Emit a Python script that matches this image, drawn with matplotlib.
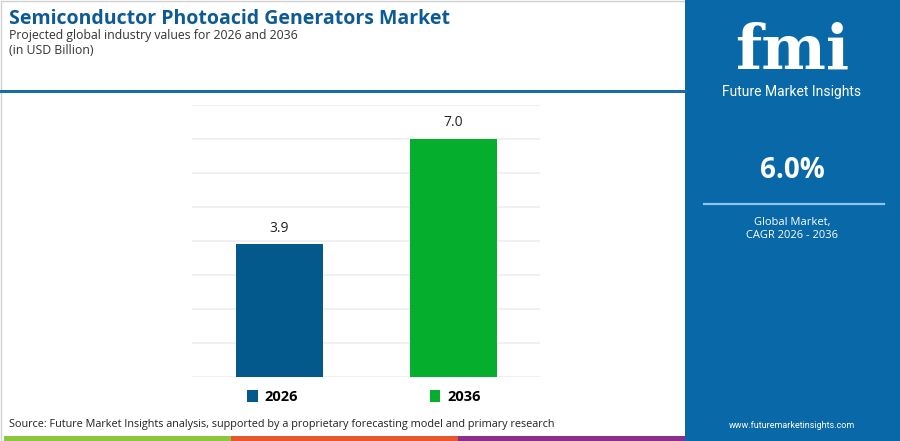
import matplotlib.pyplot as plt
from matplotlib.patches import Rectangle

years = ['2026', '2036']
values = [3.9, 7.0]
bar_colors = ['#03588c', '#05ae2c']
cagr = '6.0%'

W, H = 900, 441
fig = plt.figure(figsize=(9, 4.41), dpi=100)
fig.patch.set_facecolor('white')

def px(x0, y0, x1, y1):
    # pixel box (top-left origin) -> figure fraction rect
    return [x0 / W, 1 - y1 / H, (x1 - x0) / W, (y1 - y0) / H]

bg = fig.add_axes([0, 0, 1, 1])
bg.set_xlim(0, W)
bg.set_ylim(H, 0)
bg.axis('off')

# border and header line
bg.add_patch(Rectangle((0.5, 0.5), W - 1, H - 1, fill=False, ec='#d0d0d0', lw=1))
bg.plot([0, 685], [91, 91], color='#1c6aa6', lw=2.2)

# right panel
bg.add_patch(Rectangle((685, 0), 215, H, fc='#0868a8', ec='none'))
bg.plot([704, 884], [204, 204], color='#8fc3ea', lw=1.6)

# bottom strip
bg.add_patch(Rectangle((4, 436), 227, 5, fc='#8cc63f', ec='none'))
bg.add_patch(Rectangle((231, 436), 227, 5, fc='#e8572b', ec='none'))
bg.add_patch(Rectangle((458, 436), 227, 5, fc='#8b2f8f', ec='none'))

# header text
bg.text(9, 19, 'Semiconductor Photoacid Generators Market', fontsize=14,
        fontweight='bold', color='#0d5a94', family='Open Sans', va='center')
bg.text(9, 36, 'Projected global industry values for 2026 and 2036', fontsize=8.8,
        color='#333333', family='Open Sans', va='center')
bg.text(9, 51, '(in USD Billion)', fontsize=8.8, color='#333333',
        family='Open Sans', va='center')

# logo text
bg.text(792, 52, 'fmi', fontsize=44, fontweight='bold', color='white',
        family='DejaVu Serif', ha='center', va='center')
bg.text(792, 92, 'Future Market Insights', fontsize=10, color='white',
        family='Roboto', ha='center', va='center')

# right panel text
bg.text(792, 170, cagr, fontsize=20, fontweight='bold', color='white',
        family='Open Sans', ha='center', va='center')
bg.text(792, 223, 'Global Market,', fontsize=8, color='white',
        family='Open Sans', ha='center', va='center')
bg.text(792, 235, 'CAGR 2026 - 2036', fontsize=8, color='white',
        family='Open Sans', ha='center', va='center')
bg.text(792, 425, 'www.futuremarketinsights.com', fontsize=6.5, color='white',
        family='Roboto', ha='center', va='center')

# source
bg.text(9, 425, 'Source: Future Market Insights analysis, supported by a proprietary forecasting model and primary research',
        fontsize=7.8, color='#222222', family='Open Sans', va='center')

# bar chart
ax = fig.add_axes(px(192, 105, 540, 377))
ax.set_xlim(0, 2)
ax.set_ylim(0, 8)
xs = [0.5, 1.5]
ax.bar(xs, values, width=0.5, color=bar_colors, zorder=3)
for x, v in zip(xs, values):
    ax.text(x, v + 0.25, f'{v:.1f}', ha='center', va='bottom', fontsize=10,
            color='#222222', family='Open Sans')
ax.set_yticks(range(0, 9))
ax.grid(axis='y', color='#eeeeee', lw=1.2, zorder=0)
ax.tick_params(left=False, bottom=False, labelleft=False, labelbottom=False)
for s in ax.spines.values():
    s.set_visible(False)

# legend
handles = [Rectangle((0, 0), 1, 1, fc=c) for c in bar_colors]
leg = fig.legend(handles, years, loc='center', bbox_to_anchor=(364 / W, 1 - 397 / H),
                 ncol=2, frameon=False, handlelength=0.7, handleheight=0.9,
                 columnspacing=9.0, handletextpad=0.5,
                 prop={'family': 'Open Sans', 'weight': 'bold', 'size': 10.5})

fig.savefig('out.png', dpi=100)
